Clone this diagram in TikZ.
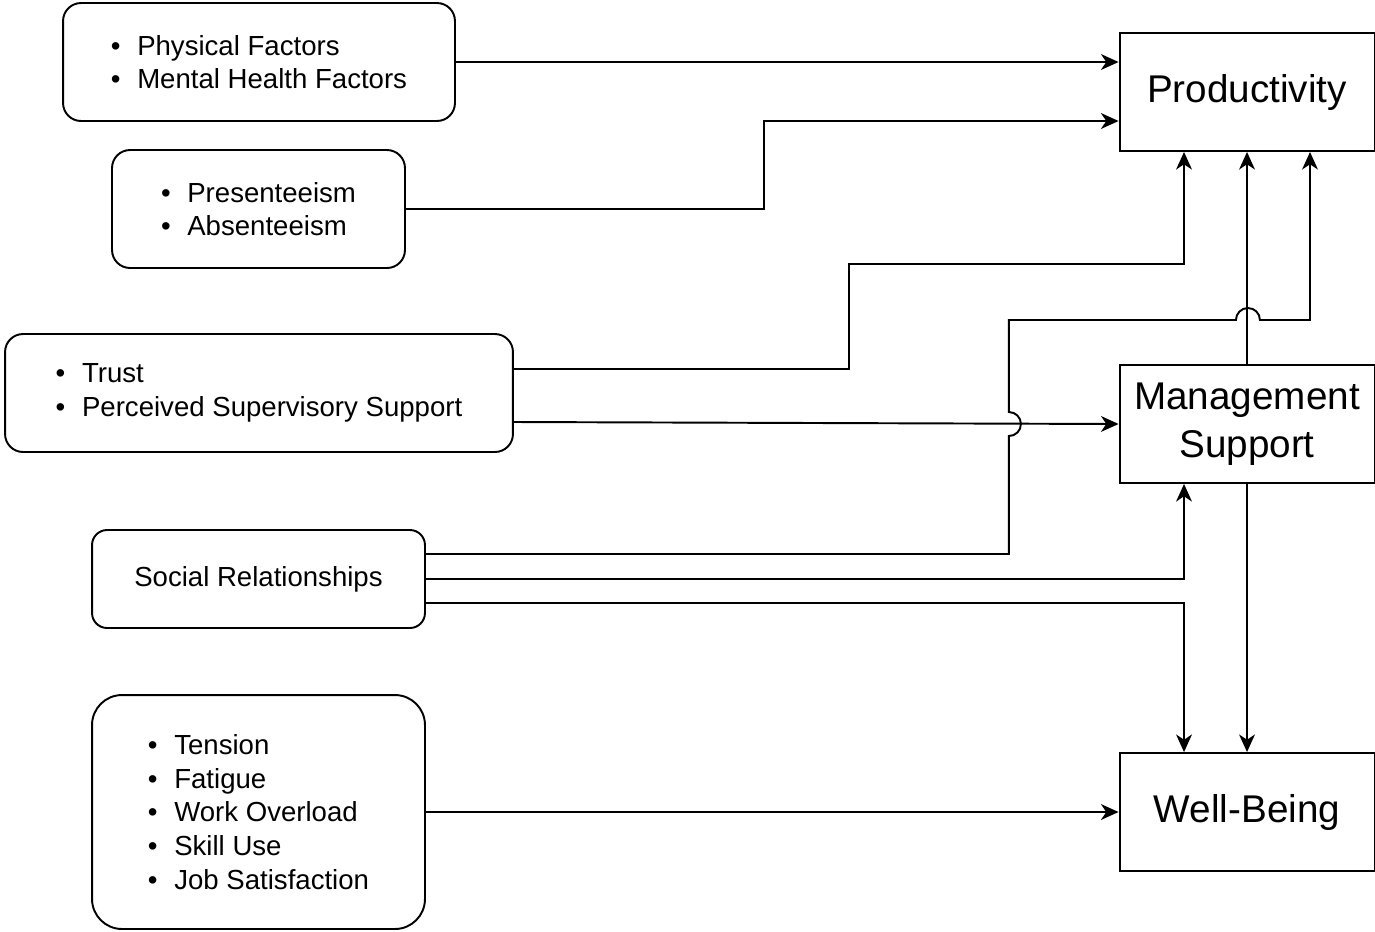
\documentclass[tikz,border=0pt]{standalone}
\usepackage{fontspec}
\setmainfont{Liberation Sans}
\usetikzlibrary{arrows.meta}
\newcommand\bul{\makebox[15pt][l]{\textbullet}}

\begin{document}
\begin{tikzpicture}[x=0.02cm, y=-0.02cm, >={Stealth[length=10pt,width=9pt,inset=3pt]},
  line width=1.1pt,
  sbox/.style={draw, rounded corners=0.36cm, align=left, inner sep=0pt,
    font=\fontsize{15.7}{19.2}\selectfont},
  tbox/.style={draw, align=center, inner sep=0pt, minimum width=5.1cm, minimum height=2.36cm,
    font=\fontsize{22}{27}\selectfont},
  arr/.style={->}]
\useasboundingbox (0,0) rectangle (1375,931);

\node[sbox, minimum width=7.84cm, minimum height=2.36cm] (phys) at (259,62)
  {\bul Physical Factors\\ \bul Mental Health Factors};
\node[sbox, minimum width=5.86cm, minimum height=2.36cm] (pres) at (258.5,209)
  {\bul Presenteeism\\ \bul Absenteeism};
\node[sbox, minimum width=10.16cm, minimum height=2.36cm] (trust) at (259,393)
  {\bul Trust\\ \bul Perceived Supervisory Support};
\node[sbox, rounded corners=0.3cm, minimum width=6.66cm, minimum height=1.96cm] (social) at (258.5,579)
  {Social Relationships};
\node[sbox, rounded corners=0.6cm, minimum width=6.66cm, minimum height=4.68cm] (strain) at (258.5,812)
  {\bul Tension\\ \bul Fatigue\\ \bul Work Overload\\ \bul Skill Use\\ \bul Job Satisfaction};

\node[tbox] (prod) at (1247,92) {Productivity};
\node[tbox] (mgmt) at (1247,424) {Management\\Support};
\node[tbox] (well) at (1247,812) {Well-Being};

% into productivity
\draw[arr] (phys.east) -- (phys.east -| prod.west);
\draw[arr] (pres.east) -- ++(358,0) |- ([yshift=-0.58cm]prod.west);
\draw[arr] ([yshift=0.48cm]trust.east) -- ++(335,0) -- ++(0,-105) -| ([xshift=-1.26cm]prod.south);
\draw[arr] ([yshift=0.5cm]social.east) -- ++(583,0) -- ++(0,-118)
  arc[start angle=-90, end angle=90, radius=0.24cm] -- ++(0,-92) -- ++(227,0)
  arc[start angle=180, end angle=0, radius=0.24cm] -| ([xshift=1.26cm]prod.south);
\draw[arr] (mgmt.north) -- (prod.south);

% into management support
\draw[arr] ([yshift=-0.58cm]trust.east) -- (mgmt.west);
\draw[arr] (social.east) -| ([xshift=-1.26cm]mgmt.south);

% into well-being
\draw[arr] ([yshift=-0.48cm]social.east) -| ([xshift=-1.26cm]well.north);
\draw[arr] (mgmt.south) -- (well.north);
\draw[arr] (strain.east) -- (well.west);

\end{tikzpicture}
\end{document}
